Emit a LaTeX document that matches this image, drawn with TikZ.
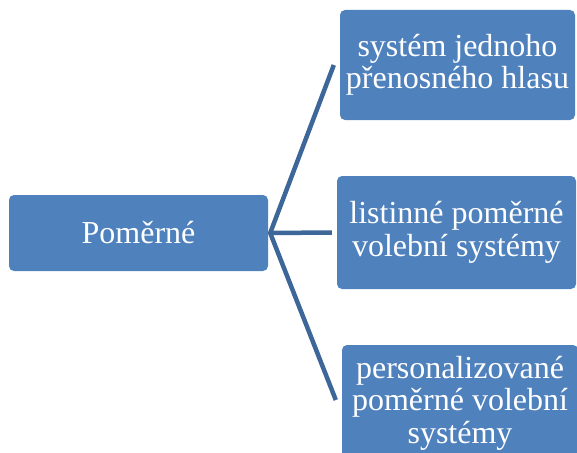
\documentclass[tikz,border=0pt]{standalone}
\usepackage{fontspec}
\setmainfont{Liberation Serif}
\usetikzlibrary{calc}
\definecolor{boxblue}{HTML}{4F81BD}
\definecolor{lineblue}{HTML}{3D6699}
\begin{document}
\begin{tikzpicture}[x=1pt,y=-1pt,
  box/.style={fill=boxblue,draw=none,rounded corners=5pt,text=white,
    font=\fontsize{32}{32.5}\selectfont,align=center,inner sep=0pt},
  conn/.style={draw=lineblue,line width=4.5pt}]
\clip (0,0) rectangle (577,452);
\node[box,minimum width=259pt,minimum height=76pt] (root) at (138.5,233) {Poměrné};
\node[box,minimum width=235pt,minimum height=110pt] (a) at (457.5,65) {systém jednoho\\přenosného hlasu};
\node[box,minimum width=239pt,minimum height=113pt] (b) at (456.5,232.5) {listinné poměrné\\volební systémy};
\node[box,minimum width=236pt,minimum height=116pt] (c) at (460,403) {personalizované\\poměrné volební\\systémy};
\coordinate (hub) at ($(root.east)+(2,0)$);
\coordinate (ea) at ($(a.west)+(-6,0)$);
\coordinate (eb) at ($(b.west)+(-5,0)$);
\coordinate (ec) at ($(c.west)+(-6,-3)$);
\draw[conn] (ea) -- (hub) -- (ec);
\draw[conn] (hub) -- (eb);
\end{tikzpicture}
\end{document}
